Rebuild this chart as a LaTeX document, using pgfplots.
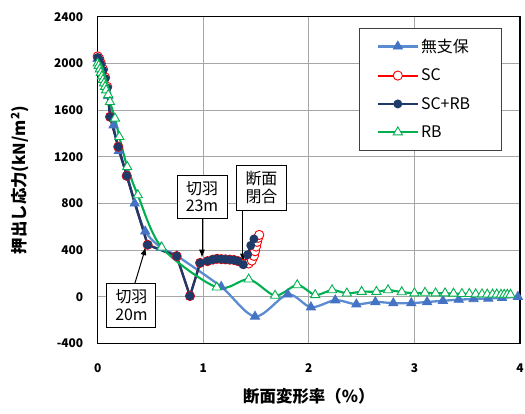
\documentclass[border=0pt]{standalone}
\usepackage{pgfplots}
\pgfplotsset{compat=1.18}
\usepackage{fontspec}
\setmainfont{Noto Sans CJK JP}
\usetikzlibrary{arrows.meta}
\definecolor{cblue}{HTML}{5B8BD0}
\definecolor{cbluem}{HTML}{4472C4}
\definecolor{cnavy}{HTML}{1F3A68}
\definecolor{cgreen}{HTML}{00B050}
\definecolor{cred}{HTML}{FF0000}
\begin{document}
\begin{tikzpicture}
\useasboundingbox (-97.7bp,-70.6bp) rectangle (427.3bp,343.4bp);
\begin{axis}[
  width=422.3bp, height=326.7bp, scale only axis,
  xmin=0, xmax=4, ymin=-400, ymax=2400,
  xtick={0,1,2,3,4}, ytick={-400,0,400,800,1200,1600,2000,2400},
  grid=major, major grid style={color=black!35, line width=0.9bp},
  major tick length=0pt,
  axis line style={line width=1.4bp},
  /pgf/number format/assume math mode=true,
  /pgf/number format/set thousands separator={},
  ticklabel style={font=\fontsize{12}{14}\selectfont\bfseries},
  xticklabel style={yshift=-17bp},
  yticklabel style={xshift=-11bp},
  xlabel={断面変形率（\%）},
  ylabel={押出し応力(kN/m\textsuperscript{2})},
  label style={font=\fontsize{16.5}{18}\selectfont\bfseries},
  xlabel style={at={(axis description cs:0.5,-0.161)}, anchor=center},
  ylabel style={at={(axis description cs:-0.184,0.5)}, anchor=center},
  legend style={draw=none, fill=none, at={(axis description cs:0.66,0.779)}, anchor=west,
    inner sep=0pt, row sep=11bp, font=\fontsize{16}{18}\selectfont},
  legend cell align=left,
  legend image code/.code={\draw[mark repeat=2,mark phase=2,#1] plot coordinates {(0bp,0bp) (20bp,0bp) (40bp,0bp)};},
]
% legend frame
\draw[black!75, line width=0.9bp, fill=white] (axis description cs:0.619,0.965) rectangle (axis description cs:0.955,0.592);

\addplot[color=cblue, line width=2.3bp, smooth, tension=0.5, mark=triangle*, mark size=5.3bp,
  mark options={fill=cbluem, draw=cbluem, solid, line width=0.8bp}] coordinates {
(0,2040) (0.03,1960) (0.06,1880) (0.1,1720) (0.15,1470) (0.2,1250) (0.28,1040) (0.35,800)
(0.45,560) (0.6,420) (0.75,350) (1.17,85) (1.49,-170) (1.8,20) (2.02,-90) (2.25,-30)
(2.45,-65) (2.63,-45) (2.8,-55) (2.97,-55) (3.12,-45) (3.27,-35) (3.42,-25) (3.56,-20)
(3.7,-15) (3.83,-10) (3.98,0)};
\addlegendentry{無支保}

\addplot[color=cred, line width=2bp, mark=*, mark size=4.6bp,
  mark options={fill=white, draw=cred, solid, line width=0.9bp}] coordinates {
(0,2060) (0.015,2040) (0.03,2000) (0.05,1950) (0.07,1880) (0.09,1800) (0.117,1542)
(0.195,1285) (0.275,1036) (0.473,445) (0.748,348) (0.874,6) (0.97,290) (1.04,305)
(1.09,318) (1.13,325) (1.17,322) (1.21,320) (1.25,318) (1.29,315) (1.33,305) (1.38,280)
(1.43,285) (1.46,310) (1.48,350) (1.49,390) (1.50,430) (1.51,470) (1.52,505) (1.53,530)};
\addlegendentry{SC}

\addplot[color=cnavy, line width=2.4bp, mark=*, mark size=3.2bp,
  mark options={fill=cnavy, draw=cnavy, solid}] coordinates {
(0,2050) (0.015,2030) (0.03,1990) (0.05,1940) (0.07,1870) (0.09,1790) (0.117,1542)
(0.195,1285) (0.275,1036) (0.473,445) (0.748,348) (0.874,6) (0.97,290) (1.04,305)
(1.09,318) (1.13,325) (1.17,322) (1.21,320) (1.25,318) (1.29,315) (1.33,305) (1.38,275)
(1.42,360) (1.45,440) (1.48,495)};
\addlegendentry{SC+RB}

\addplot[color=cgreen, line width=2.1bp, smooth, tension=0.5, mark=triangle*, mark size=5.3bp,
  mark options={fill=white, draw=cgreen, solid, line width=0.9bp}] coordinates {
(0,2000) (0.01,1980) (0.02,1950) (0.03,1920) (0.04,1890) (0.05,1860) (0.06,1830) (0.07,1800)
(0.08,1770) (0.1,1730) (0.116,1670) (0.164,1528) (0.205,1370) (0.28,1113) (0.38,871)
(0.606,423) (1.127,80) (1.43,149) (1.68,10) (1.89,100) (2.06,15) (2.22,57) (2.36,29)
(2.5,43) (2.64,43) (2.75,57) (2.88,40) (3.0,30) (3.1,35) (3.2,30) (3.29,30) (3.37,28)
(3.45,25) (3.52,25) (3.58,22) (3.64,22) (3.69,20) (3.74,20) (3.78,20) (3.82,18) (3.85,18)
(3.88,18) (3.91,18)};
\addlegendentry{RB}

% annotations
\draw[-{Latex[length=8bp,width=6bp]}, line width=1bp] (axis cs:0.353,117) -- (axis cs:0.455,425);
\draw[-{Latex[length=8bp,width=6bp]}, line width=1bp] (axis cs:0.988,674) -- (axis cs:0.988,335);
\draw[-{Latex[length=8bp,width=6bp]}, line width=1bp] (axis cs:1.376,743) -- (axis cs:1.376,300);
\node[draw, fill=white, line width=1bp, align=center, inner sep=1.5bp, minimum width=49bp, minimum height=44bp,
  font=\fontsize{16}{18}\selectfont] at (axis cs:0.32,-71) {切羽\\20m};
\node[draw, fill=white, line width=1bp, align=center, inner sep=1.5bp, minimum width=50bp, minimum height=43bp,
  font=\fontsize{16}{18}\selectfont] at (axis cs:0.988,858) {切羽\\23m};
\node[draw, fill=white, line width=1bp, align=center, inner sep=1.5bp, minimum width=50bp, minimum height=45bp,
  font=\fontsize{16}{18}\selectfont] at (axis cs:1.551,935) {断面\\閉合};
\end{axis}
\end{tikzpicture}
\end{document}
